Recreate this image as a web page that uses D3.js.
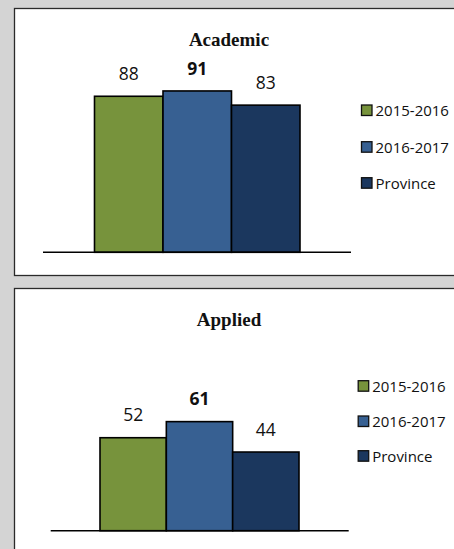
<!DOCTYPE html>
<html><head><meta charset="utf-8">
<script src="https://cdn.jsdelivr.net/npm/d3@7"></script>
<style>
html,body{margin:0;padding:0;background:#d4d4d4;}
svg{display:block;}
</style></head>
<body>
<svg id="c" width="454" height="549"></svg>
<script>
const series = ["2015-2016", "2016-2017", "Province"];
const colors = ["#77933c", "#376092", "#1b375e"];
const boldSeries = [false, true, false];
const academicValues = [88, 91, 83];
const appliedValues = [52, 61, 44];
const panelTitles = ["Academic", "Applied"];

const svg = d3.select("#c");

const panels = [
  {title: panelTitles[0], values: academicValues, box: [14, 8, 460, 275],
   titleY: 46, yTop: 75, yBase: 252.3, x0: 94.5, x1: 300, axis: [43, 351],
   legX: 361, legY: [110, 146.7, 182.7]},
  {title: panelTitles[1], values: appliedValues, box: [14, 288, 460, 560],
   titleY: 326, yTop: 351.9, yBase: 530.7, x0: 100, x1: 299, axis: [50.7, 348.7],
   legX: 357.7, legY: [385.7, 421, 455.7]}
];

panels.forEach(p => {
  const g = svg.append("g");
  g.append("rect")
    .attr("x", p.box[0] + 0.5).attr("y", p.box[1] + 0.5)
    .attr("width", p.box[2] - p.box[0]).attr("height", p.box[3] - p.box[1])
    .attr("fill", "#fff").attr("stroke", "#2a2a2a").attr("stroke-width", 1.3);

  g.append("text").attr("x", 229).attr("y", p.titleY)
    .attr("text-anchor", "middle")
    .attr("font-family", "'Liberation Serif','Times New Roman',serif")
    .attr("font-weight", "bold").attr("font-size", 19)
    .attr("fill", "#111").text(p.title);

  const x = d3.scaleBand().domain(series).range([p.x0, p.x1]).padding(0);
  const y = d3.scaleLinear().domain([0, 100]).range([p.yBase, p.yTop]);

  g.selectAll("rect.bar").data(p.values).enter().append("rect")
    .attr("class", "bar")
    .attr("x", (d, i) => x(series[i]))
    .attr("y", d => y(d))
    .attr("width", x.bandwidth())
    .attr("height", d => y(0) - y(d))
    .attr("fill", (d, i) => colors[i])
    .attr("stroke", "#000").attr("stroke-width", 1.6);

  g.selectAll("text.lbl").data(p.values).enter().append("text")
    .attr("class", "lbl")
    .attr("x", (d, i) => x(series[i]) + x.bandwidth() / 2)
    .attr("y", d => y(d) - 16.3)
    .attr("text-anchor", "middle")
    .attr("font-family", "'Open Sans',sans-serif")
    .attr("font-size", 17.5)
    .attr("font-weight", (d, i) => boldSeries[i] ? "bold" : "normal")
    .attr("fill", "#111")
    .text(d => d);

  g.append("line")
    .attr("x1", p.axis[0]).attr("x2", p.axis[1])
    .attr("y1", y(0)).attr("y2", y(0))
    .attr("stroke", "#000").attr("stroke-width", 1.4);

  const leg = g.selectAll("g.leg").data(series).enter().append("g")
    .attr("transform", (d, i) => `translate(${p.legX},${p.legY[i]})`);
  leg.append("rect").attr("x", 0.5).attr("y", -5).attr("width", 10.5).attr("height", 10.5)
    .attr("fill", (d, i) => colors[i]).attr("stroke", "#111").attr("stroke-width", 1.3);
  leg.append("text").attr("x", 14.5).attr("y", 5.8)
    .attr("font-family", "'Open Sans',sans-serif").attr("font-size", 15)
    .attr("fill", "#111").text(d => d);
});
</script>
</body></html>
